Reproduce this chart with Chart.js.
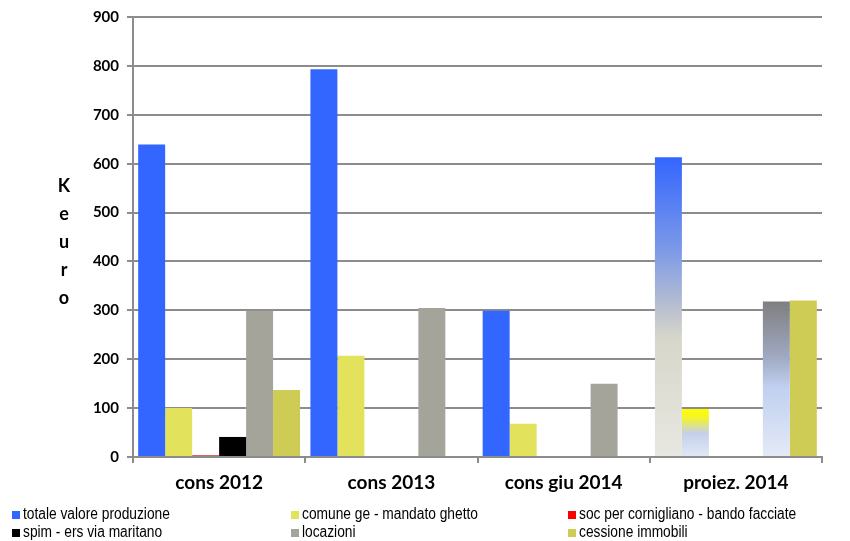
<!DOCTYPE html>
<html>
<head>
<meta charset="utf-8">
<script src="https://cdn.jsdelivr.net/npm/chart.js@4/dist/chart.umd.min.js"></script>
<style>
  html, body { margin: 0; padding: 0; background: #fff; }
  #wrap { width: 850px; height: 541px; position: relative; }
</style>
</head>
<body>
<div id="wrap"><canvas id="myChart" width="850" height="541"></canvas></div>
<script>
const categories = ['cons 2012', 'cons 2013', 'cons giu 2014', 'proiez. 2014'];
const totaleValore = [639, 793, 299, 613];
const comuneGe = [100, 207, 68, 98];
const socCornigliano = [4, 2, 0, 0];
const spimErs = [41, 0, 0, 0];
const locazioni = [299, 305, 150, 318];
const cessioneImmobili = [137, 0, 0, 320];
const yTicks = [0, 100, 200, 300, 400, 500, 600, 700, 800, 900];
const yTitle = ['K', 'e', 'u', 'r', 'o'];

const seriesNames = [
    'totale valore produzione', 'comune ge - mandato ghetto', 'soc per cornigliano - bando facciate',
    'spim - ers via maritano', 'locazioni', 'cessione immobili'
];
const seriesColors = ['#3366ff', '#e2e25c', '#ff0000', '#000000', '#a4a49a', '#cfcc55'];
const barColors = ['#3366ff', '#e2e25c', '#e05a50', '#000000', '#a4a49a', '#cfcc55'];

// the last group (projection) is drawn with faded gradient fills
const gradStops = {
    0: [[0, '#3366ff'], [0.3, '#7a98e8'], [0.5, '#b8bfd0'], [0.6, '#d6d6ca'], [1, '#e8e8e2']],
    1: [[0, '#ffff00'], [0.2, '#f2f230'], [0.5, '#c4d0ea'], [1, '#e2e8f5']],
    4: [[0, '#7f7f7f'], [0.35, '#9ea8c0'], [0.55, '#c0d0f0'], [1, '#e4eaf7']]
};

const makeFill = (seriesIdx) => (ctx) => {
    const base = barColors[seriesIdx];
    if (ctx.type !== 'data' || ctx.dataIndex !== 3 || !gradStops[seriesIdx]) return base;
    const chart = ctx.chart;
    if (!chart.chartArea || !chart.scales.y) return base;
    const top = chart.scales.y.getPixelForValue(ctx.raw);
    const bottom = chart.scales.y.getPixelForValue(0);
    if (!isFinite(top) || bottom - top < 1) return base;
    const g = chart.ctx.createLinearGradient(0, top, 0, bottom);
    for (const [p, c] of gradStops[seriesIdx]) g.addColorStop(p, c);
    return g;
};

const allSeries = [totaleValore, comuneGe, socCornigliano, spimErs, locazioni, cessioneImmobili];

const datasets = allSeries.map((values, i) => ({
    label: seriesNames[i],
    data: values,
    backgroundColor: makeFill(i),
    borderWidth: 0,
    categoryPercentage: 0.94,
    barPercentage: 1.0
}));

const gridColor = '#8c8c8c';

const sideTitle = {
    id: 'sideTitle',
    afterDraw(chart) {
        const c = chart.ctx;
        c.save();
        c.fillStyle = '#000';
        c.font = 'bold 18px Lato';
        c.textAlign = 'center';
        c.textBaseline = 'middle';
        yTitle.forEach((ch, i) => c.fillText(ch, 64, 186 + i * 28));
        c.restore();
    }
};

// legend in three fixed columns, narrow text
const bottomLegend = {
    id: 'bottomLegend',
    afterDraw(chart) {
        const c = chart.ctx;
        const cols = [12, 291, 568];
        const rows = [515, 533];
        c.save();
        c.textBaseline = 'middle';
        c.textAlign = 'left';
        seriesNames.forEach((name, i) => {
            const x = cols[i % 3];
            const y = rows[Math.floor(i / 3)];
            c.fillStyle = seriesColors[i];
            c.fillRect(x, y - 4, 8, 8);
            c.save();
            c.translate(x + 11, y);
            c.scale(0.86, 1);
            c.font = '16px "Liberation Sans", Arial, sans-serif';
            c.fillStyle = '#000';
            c.fillText(name, 0, 0);
            c.restore();
        });
        c.restore();
    }
};

const ctx = document.getElementById('myChart').getContext('2d');
const myChart = new Chart(ctx, {
    type: 'bar',
    data: { labels: categories, datasets: datasets },
    options: {
        responsive: false,
        animation: false,
        layout: { padding: { top: 10, right: 28, left: 0, bottom: 0 } },
        plugins: {
            legend: { display: false },
            tooltip: { enabled: false }
        },
        scales: {
            x: {
                grid: { drawOnChartArea: false, drawTicks: true, tickLength: 6, color: gridColor, lineWidth: 2 },
                border: { color: gridColor, width: 2 },
                ticks: { color: '#000', font: { family: 'Lato', weight: 'bold', size: 19 }, padding: 8 },
                afterFit: (scale) => { scale.height = 84; }
            },
            y: {
                min: 0,
                max: 900,
                afterBuildTicks: (scale) => { scale.ticks = yTicks.map(v => ({ value: v })); },
                grid: { color: gridColor, lineWidth: 2, tickLength: 6 },
                border: { color: gridColor, width: 2 },
                ticks: { color: '#000', font: { family: 'Lato', weight: 'bold', size: 15 }, padding: 8 },
                afterFit: (scale) => { scale.width = 133; }
            }
        }
    },
    plugins: [sideTitle, bottomLegend]
});
</script>
</body>
</html>
